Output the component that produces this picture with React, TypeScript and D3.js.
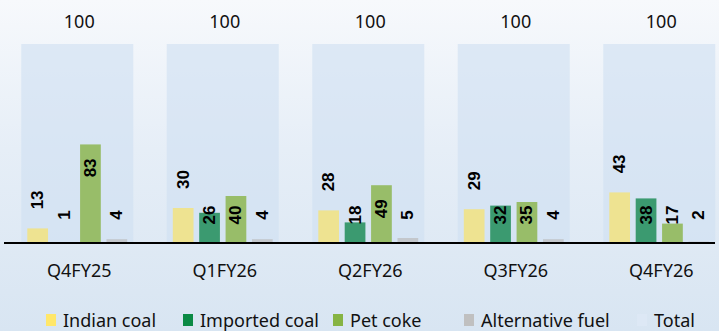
import React from "react";
import * as d3 from "d3";

const categories = ["Q4FY25", "Q1FY26", "Q2FY26", "Q3FY26", "Q4FY26"];
const seriesNames = ["Indian coal", "Imported coal", "Pet coke", "Alternative fuel"];
const indianCoal = [13, 30, 28, 29, 43];
const importedCoal = [1, 26, 18, 32, 38];
const petCoke = [83, 40, 49, 35, 17];
const alternativeFuel = [4, 4, 5, 4, 2];
const total = [100, 100, 100, 100, 100];
const legendNames = ["Indian coal", "Imported coal", "Pet coke", "Alternative fuel", "Total"];

const seriesValues = [indianCoal, importedCoal, petCoke, alternativeFuel];
const barColors = ["#eee391", "#3b9a70", "#98bd69", "#c3c7cc"];
const legendColors = ["#ffe76a", "#0b8a45", "#86b443", "#c0c0c0", "#dde8f5"];

const W = 719;
const H = 331;
const BASE = 244;
const TOP = 44;
const FONT = "'Noto Sans', sans-serif";

export default function App() {
  const x = d3
    .scaleBand<string>()
    .domain(categories)
    .range([4.5, 4.5 + 5 * 145.5])
    .paddingInner(0.23)
    .paddingOuter(0.115);
  const xi = d3
    .scaleBand<string>()
    .domain(seriesNames)
    .range([0, x.bandwidth()])
    .paddingInner(0.215)
    .paddingOuter(0.23);
  const yTotal = d3.scaleLinear().domain([0, 100]).range([BASE, TOP]);
  const yShare = d3.scaleLinear().domain([0, 166.7]).range([BASE, TOP]);

  const legendX = [46, 183, 333, 464, 637];

  return (
    <svg
      width={W}
      height={H}
      style={{ position: "fixed", left: 0, top: 0, display: "block" }}
    >
      <defs>
        <linearGradient id="bg" x1="0" y1="0" x2="0" y2="1">
          <stop offset="0" stopColor="#f7f9fc" />
          <stop offset="0.45" stopColor="#e6eef7" />
          <stop offset="1" stopColor="#d8e5f2" />
        </linearGradient>
      </defs>
      <rect x={0} y={0} width={W} height={H} fill="url(#bg)" />

      {categories.map((c, i) => {
        const gx = x(c)!;
        return (
          <g key={c}>
            <rect
              x={gx}
              y={yTotal(total[i])}
              width={x.bandwidth()}
              height={BASE - yTotal(total[i])}
              fill="#cfdff1"
              opacity={0.6}
            />
            <text
              x={gx + x.bandwidth() / 2 + 2}
              y={28}
              textAnchor="middle"
              fontFamily={FONT}
              fontSize={18}
              fill="#111"
            >
              {total[i]}
            </text>
            {seriesNames.map((s, j) => {
              const v = seriesValues[j][i];
              const bx = gx + xi(s)!;
              const top = yShare(v);
              const cx = bx + xi.bandwidth() / 2;
              const cy = j === 0 ? top - 28.5 : Math.min(215, top + 23.5);
              return (
                <g key={s}>
                  <rect
                    x={bx}
                    y={top}
                    width={xi.bandwidth()}
                    height={BASE - top}
                    fill={barColors[j]}
                  />
                  <text
                    transform={`translate(${cx},${cy}) rotate(-90)`}
                    textAnchor="middle"
                    dominantBaseline="central"
                    fontFamily="'Liberation Sans', Arial, sans-serif"
                    fontWeight="bold"
                    fontSize={17}
                    fill="#000"
                  >
                    {v}
                  </text>
                </g>
              );
            })}
            <text
              x={gx + x.bandwidth() / 2 + 2}
              y={277}
              textAnchor="middle"
              fontFamily={FONT}
              fontSize={18}
              fill="#111"
            >
              {c}
            </text>
          </g>
        );
      })}

      <line x1={4} x2={715} y1={243} y2={243} stroke="#000" strokeWidth={2} />

      {legendNames.map((n, k) => (
        <g key={n} transform={`translate(${legendX[k]},0)`}>
          <rect x={0} y={314} width={10} height={12} fill={legendColors[k]} />
          <text x={17} y={327} fontFamily={FONT} fontSize={18} fill="#111">
            {n}
          </text>
        </g>
      ))}
    </svg>
  );
}
